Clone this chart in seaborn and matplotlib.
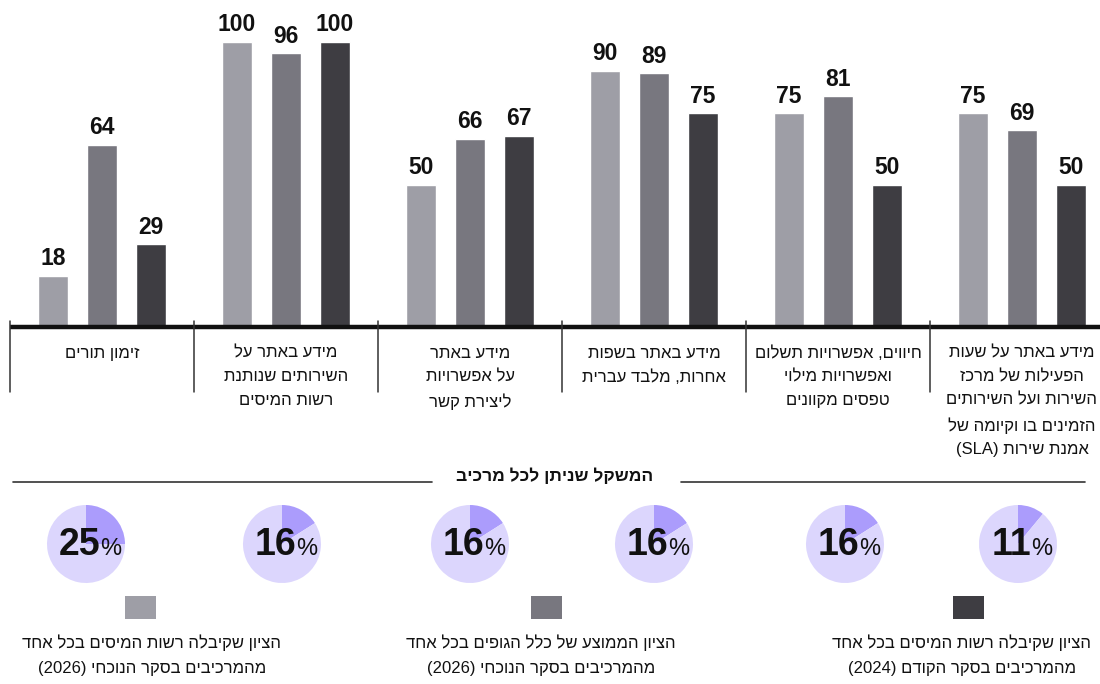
import re
import numpy as np
import pandas as pd
import matplotlib
matplotlib.use("Agg")
import matplotlib.pyplot as plt
from matplotlib import font_manager as fm
from matplotlib.patches import Rectangle
import seaborn as sns

# ---------------- data (logical order: first item is the right-most group) ----------------
categories = [
    "מידע באתר על שעות\nהפעילות של מרכז\nהשירות ועל השירותים\nהזמינים בו וקיומה של\nאמנת שירות (SLA)",
    "חיווים, אפשרויות תשלום\nואפשרויות מילוי\nטפסים מקוונים",
    "מידע באתר בשפות\nאחרות, מלבד עברית",
    "מידע באתר\nעל אפשרויות\nליצירת קשר",
    "מידע באתר על\nהשירותים שנותנת\nרשות המיסים",
    "זימון תורים",
]
score_tax_2026 = [75, 75, 90, 50, 100, 18]
score_avg_2026 = [69, 81, 89, 66, 96, 64]
score_tax_2024 = [50, 50, 75, 67, 100, 29]
weights_pct = [11, 16, 16, 16, 16, 25]

series_labels = [
    "הציון שקיבלה רשות המיסים בכל אחד\nמהמרכיבים בסקר הנוכחי (2026)",
    "הציון הממוצע של כלל הגופים בכל אחד\nמהמרכיבים בסקר הנוכחי (2026)",
    "הציון שקיבלה רשות המיסים בכל אחד\nמהמרכיבים בסקר הקודם (2024)",
]
weights_title = "המשקל שניתן לכל מרכיב"

series_colors = ["#9e9ea6", "#78777f", "#3e3d42"]
pie_colors = ["#ab9cfc", "#dcd6fd"]


def rtl(s):
    """Convert logical-order Hebrew text to visual order (per line)."""
    out = []
    for line in s.split("\n"):
        toks = line.split(" ")
        vis = [t[::-1] if re.search("[\u0590-\u05FF]", t) else t for t in toks]
        out.append(" ".join(reversed(vis)))
    return "\n".join(out)


# ---------------- fonts ----------------
names = {f.name for f in fm.fontManager.ttflist}
narrow = "Liberation Sans Narrow" if "Liberation Sans Narrow" in names else "Liberation Sans"
FAM = [narrow, "Liberation Sans", "DejaVu Sans"]
sns.set_theme(style="white")
plt.rcParams["font.family"] = FAM

W, H = 1100, 684
fig = plt.figure(figsize=(11, 6.84), dpi=100)

# ---------------- bars ----------------
base_px = 327            # baseline, px from top
px_per_unit = 2.85
left_px, group_px = 10, 184
ax = fig.add_axes([left_px / W, 1 - base_px / H, group_px * 6 / W, base_px / H])

order_lr = [rtl(c) for c in categories[::-1]]
hue_order = [rtl(s) for s in series_labels]
rows = []
for vals, lab in zip([score_tax_2026, score_avg_2026, score_tax_2024], hue_order):
    for c, v in zip(categories, vals):
        rows.append({"cat": rtl(c), "val": v, "series": lab})
df = pd.DataFrame(rows)

sns.barplot(data=df, x="cat", y="val", hue="series", order=order_lr,
            hue_order=hue_order, palette=series_colors, width=0.8, gap=0.39,
            saturation=1, legend=False, ax=ax, errorbar=None)
ax.set_xlim(-0.5, 5.5)
ax.set_ylim(0, base_px / px_per_unit)
ax.set_xlabel("")
ax.set_ylabel("")
ax.set_yticks([])
for s in ax.spines.values():
    s.set_visible(False)
ax.tick_params(axis="x", length=0, pad=13.5)
ax.set_xticks(range(6))
ax.set_xticklabels(order_lr, fontsize=12, color="#111", linespacing=1.7)

for cont in ax.containers:
    ax.bar_label(cont, fmt="%d", padding=4, fontsize=16.5, fontweight="bold",
                 color="#111", family=FAM)

# baseline and separators
ax.plot([-0.5, 5.5], [0, 0], color="#111", lw=3.2, clip_on=False,
        solid_capstyle="butt", zorder=5)
xt = ax.get_xaxis_transform()
for k in range(7):
    ax.plot([k - 0.5, k - 0.5], [6 / base_px, -65 / base_px], transform=xt,
            color="#333", lw=1.1, clip_on=False, zorder=5)

# ---------------- pies ----------------
pie_cx = [86, 282, 470, 654, 845, 1018]   # left-to-right layout positions (px)
pie_cy, pie_r = 544, 39
weights_lr = weights_pct[::-1]
for cx, w in zip(pie_cx, weights_lr):
    pa = fig.add_axes([(cx - pie_r) / W, 1 - (pie_cy + pie_r) / H,
                       2 * pie_r / W, 2 * pie_r / H])
    pa.pie([w, 100 - w], colors=pie_colors, startangle=90, counterclock=False,
           wedgeprops=dict(linewidth=0))
    pa.set_xlim(-1, 1)
    pa.set_ylim(-1, 1)
    pa.set_aspect("auto")
    pa.axis("off")

# ---------------- overlay (pixel coordinates) ----------------
ov = fig.add_axes([0, 0, 1, 1])
ov.set_xlim(0, W)
ov.set_ylim(H, 0)
ov.axis("off")
ov.patch.set_alpha(0)

# title with rules
ov.text(555, 476, rtl(weights_title), ha="center", va="center", fontsize=12.5,
        fontweight="bold", color="#111")
ov.plot([13, 432], [482, 482], color="#333", lw=1.2)
ov.plot([681, 1085], [482, 482], color="#333", lw=1.2)

# percentages in pies
fig.canvas.draw()
renderer = fig.canvas.get_renderer()
for cx, w in zip(pie_cx, weights_lr):
    tn = ov.text(cx, 555, f"{w}", ha="right", va="baseline", fontsize=27,
                 fontweight="bold", color="#111")
    tp = ov.text(cx, 555, "%", ha="left", va="baseline", fontsize=17, color="#111")
    wn = tn.get_window_extent(renderer).width
    wp = tp.get_window_extent(renderer).width
    x = cx + 4 + (wn - wp) / 2
    tn.set_x(x)
    tp.set_x(x)

# legend
leg_sq_x = [140, 546, 968]
leg_txt_x = [152, 541, 962]
for sx, tx, col, lab in zip(leg_sq_x, leg_txt_x, series_colors, series_labels):
    ov.add_patch(Rectangle((sx - 15.5, 596), 31, 23, color=col, lw=0))
    ov.text(tx, 655, rtl(lab), ha="center", va="center", fontsize=12,
            color="#111", linespacing=1.85, multialignment="center")

fig.savefig("out.png", dpi=100)
